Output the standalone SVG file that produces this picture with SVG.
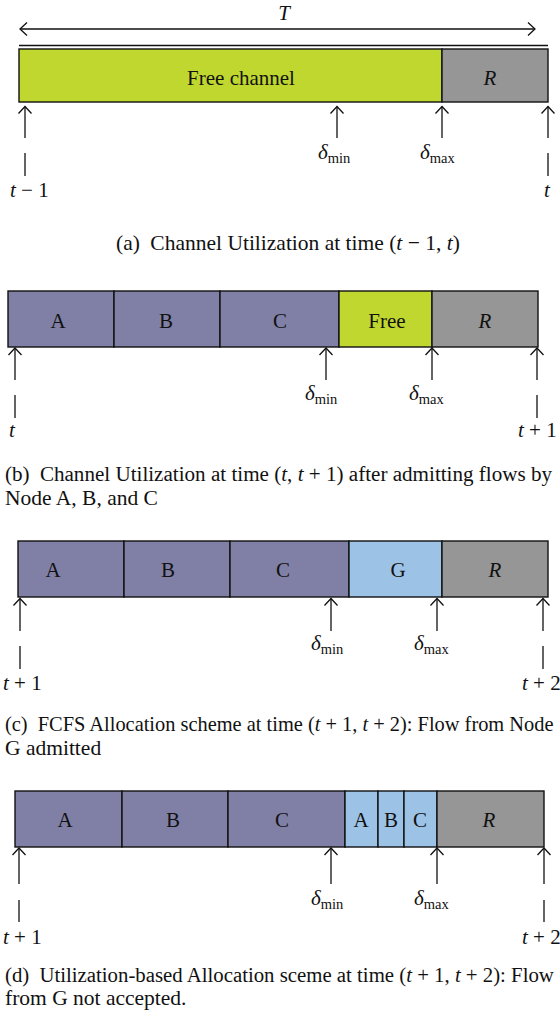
<svg xmlns="http://www.w3.org/2000/svg" width="560" height="1018" viewBox="0 0 560 1018">
<defs>
<marker id="ah" markerWidth="20" markerHeight="20" viewBox="-10 -10 20 20" refX="0" refY="0" orient="auto-start-reverse" markerUnits="userSpaceOnUse">
<path d="M-7,-6.5 L0,0 L-7,6.5" fill="none" stroke="#111" stroke-width="1.3"/>
</marker>
<style>
text{font-family:"Liberation Serif","Times New Roman",serif;font-size:21px;fill:#111}
.cap{font-size:21.5px}
.c{text-anchor:middle}
.i{font-style:italic}
.sub{font-size:14.5px}
.box{stroke:#111;stroke-width:1.4}
.g{fill:#c0d72f}
.r{fill:#969696}
.p{fill:#8080a6}
.b{fill:#9cc3e6}
.arr{stroke:#111;stroke-width:1.3;fill:none;marker-end:url(#ah)}
.tick{stroke:#111;stroke-width:1.3;fill:none}
</style>
</defs>
<rect width="560" height="1018" fill="#fff"/>

<!-- Panel a -->
<g id="panel-a">
<g id="a-period">
<path d="M20,29 L535,29" stroke="#111" stroke-width="1.3" fill="none" marker-start="url(#ah)" marker-end="url(#ah)"/>
<text x="284" y="20" class="c i">T</text>
<path d="M19,45.5 L548,45.5" stroke="#111" stroke-width="1.3"/>
</g>
<g id="a-free"><rect x="19" y="49" width="423" height="53" class="box g"/><text x="241" y="85" class="c">Free channel</text></g>
<g id="a-R"><rect x="442" y="49" width="106" height="53" class="box r"/><text x="490" y="85" class="c i">R</text></g>
</g>

<!-- Panel b -->
<g id="panel-b">
<g id="b-A"><rect x="8" y="291" width="106" height="56" class="box p"/><text x="58" y="328" class="c">A</text></g>
<g id="b-B"><rect x="114" y="291" width="106" height="56" class="box p"/><text x="166" y="328" class="c">B</text></g>
<g id="b-C"><rect x="220" y="291" width="119" height="56" class="box p"/><text x="280" y="328" class="c">C</text></g>
<g id="b-Free"><rect x="339" y="291" width="93" height="56" class="box g"/><text x="387" y="328" class="c">Free</text></g>
<g id="b-R"><rect x="432" y="291" width="106" height="56" class="box r"/><text x="485" y="328" class="c i">R</text></g>
</g>

<!-- Panel c -->
<g id="panel-c">
<g id="c-A"><rect x="18" y="541" width="106" height="56" class="box p"/><text x="53" y="577" class="c">A</text></g>
<g id="c-B"><rect x="124" y="541" width="106" height="56" class="box p"/><text x="168" y="577" class="c">B</text></g>
<g id="c-C"><rect x="230" y="541" width="119" height="56" class="box p"/><text x="283" y="577" class="c">C</text></g>
<g id="c-G"><rect x="349" y="541" width="93" height="56" class="box b"/><text x="398" y="577" class="c">G</text></g>
<g id="c-R"><rect x="442" y="541" width="106" height="56" class="box r"/><text x="495" y="577" class="c i">R</text></g>
</g>

<!-- Panel d -->
<g id="panel-d">
<g id="d-A"><rect x="15" y="791" width="107" height="56" class="box p"/><text x="65" y="827" class="c">A</text></g>
<g id="d-B"><rect x="122" y="791" width="106" height="56" class="box p"/><text x="173" y="827" class="c">B</text></g>
<g id="d-C"><rect x="228" y="791" width="117" height="56" class="box p"/><text x="282" y="827" class="c">C</text></g>
<g id="d-A2"><rect x="345" y="791" width="33" height="56" class="box b"/><text x="361" y="827" class="c">A</text></g>
<g id="d-B2"><rect x="378" y="791" width="26" height="56" class="box b"/><text x="391" y="827" class="c">B</text></g>
<g id="d-C2"><rect x="404" y="791" width="33" height="56" class="box b"/><text x="420" y="827" class="c">C</text></g>
<g id="d-R"><rect x="437" y="791" width="107" height="56" class="box r"/><text x="489" y="827" class="c i">R</text></g>
</g>

<!-- Connectors (time markers) -->
<g id="connectors">
<path class="arr" d="M25,138 L25,106.5"/><path class="tick" d="M25,153 L25,176"/>
<path class="arr" d="M337,138 L337,106.5"/>
<path class="arr" d="M442,138 L442,106.5"/>
<path class="arr" d="M548,138 L548,106.5"/><path class="tick" d="M548,153 L548,176"/>

<path class="arr" d="M15,380 L15,348"/><path class="tick" d="M15,395 L15,418"/>
<path class="arr" d="M326,380 L326,348"/>
<path class="arr" d="M432,380 L432,348"/>
<path class="arr" d="M537,380 L537,348"/><path class="tick" d="M537,395 L537,418"/>

<path class="arr" d="M20,631 L20,598.5"/><path class="tick" d="M20,646 L20,669"/>
<path class="arr" d="M331,631 L331,598.5"/>
<path class="arr" d="M437,631 L437,598.5"/>
<path class="arr" d="M543,631 L543,598.5"/><path class="tick" d="M543,646 L543,669"/>

<path class="arr" d="M19,884 L19,848"/><path class="tick" d="M19,900 L19,922"/>
<path class="arr" d="M331,884 L331,848"/>
<path class="arr" d="M437,884 L437,848"/>
<path class="arr" d="M544,884 L544,848"/><path class="tick" d="M544,900 L544,922"/>
</g>

<!-- Marker labels -->
<g id="labels">
<text x="10" y="197"><tspan class="i">t</tspan> − 1</text>
<text x="318" y="159"><tspan class="i">δ</tspan><tspan class="sub" dy="4">min</tspan></text>
<text x="420" y="159"><tspan class="i">δ</tspan><tspan class="sub" dy="4">max</tspan></text>
<text x="547" y="197" class="c i">t</text>

<text x="9" y="437" class="i">t</text>
<text x="305" y="400"><tspan class="i">δ</tspan><tspan class="sub" dy="4">min</tspan></text>
<text x="409" y="400"><tspan class="i">δ</tspan><tspan class="sub" dy="4">max</tspan></text>
<text x="518" y="437"><tspan class="i">t</tspan> + 1</text>

<text x="3" y="690"><tspan class="i">t</tspan> + 1</text>
<text x="311" y="650"><tspan class="i">δ</tspan><tspan class="sub" dy="4">min</tspan></text>
<text x="414" y="650"><tspan class="i">δ</tspan><tspan class="sub" dy="4">max</tspan></text>
<text x="522" y="690"><tspan class="i">t</tspan> + 2</text>

<text x="3" y="944"><tspan class="i">t</tspan> + 1</text>
<text x="311" y="905"><tspan class="i">δ</tspan><tspan class="sub" dy="4">min</tspan></text>
<text x="414" y="905"><tspan class="i">δ</tspan><tspan class="sub" dy="4">max</tspan></text>
<text x="522" y="944"><tspan class="i">t</tspan> + 2</text>
</g>

<!-- Captions -->
<g id="captions">
<text x="288" y="250" class="c cap">(a) <tspan dx="5">Channel Utilization at time (</tspan><tspan class="i">t</tspan> − 1, <tspan class="i">t</tspan>)</text>
<text x="5" y="481" style="font-size:21.1px">(b) <tspan dx="5">Channel Utilization at time (</tspan><tspan class="i">t</tspan>, <tspan class="i">t</tspan> + 1) after admitting flows by</text>
<text x="5" y="505" class="cap">Node A, B, and C</text>
<text x="5" y="731" style="font-size:20.4px">(c) <tspan dx="5">FCFS Allocation scheme at time (</tspan><tspan class="i">t</tspan> + 1, <tspan class="i">t</tspan> + 2): Flow from Node</text>
<text x="5" y="755" class="cap">G admitted</text>
<text x="5" y="982" style="font-size:20.8px">(d) <tspan dx="5">Utilization-based Allocation sceme at time (</tspan><tspan class="i">t</tspan> + 1, <tspan class="i">t</tspan> + 2): Flow</text>
<text x="5" y="1005" class="cap">from G not accepted.</text>
</g>
</svg>
